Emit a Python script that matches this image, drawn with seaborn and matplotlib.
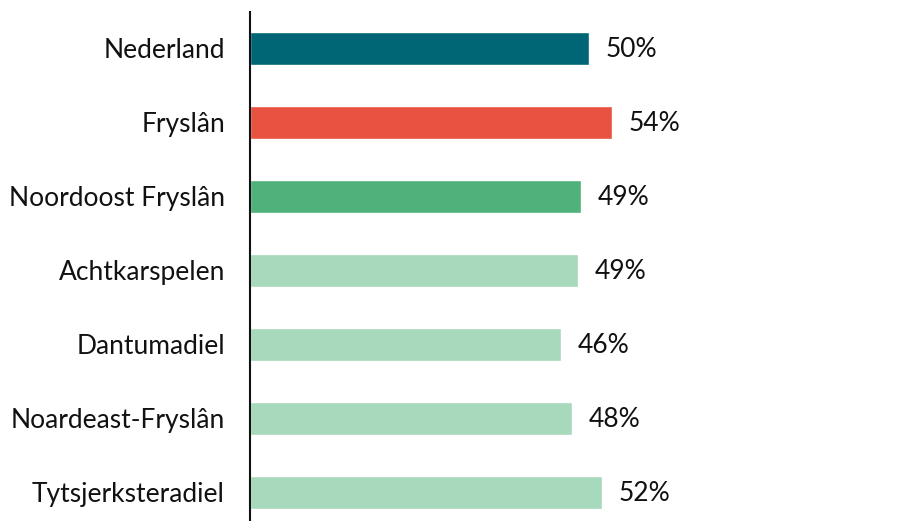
import pandas as pd
import matplotlib.pyplot as plt
import seaborn as sns

# --- DATOS ---
REGIONS = ["Nederland", "Fryslân", "Noordoost Fryslân", "Achtkarspelen",
           "Dantumadiel", "Noardeast-Fryslân", "Tytsjerksteradiel"]
VALUES = [50.2, 53.5, 48.9, 48.5, 46.0, 47.6, 52.1]
LABELS = ["50%", "54%", "49%", "49%", "46%", "48%", "52%"]
COLORS = ["#006675", "#E85240", "#50B27A", "#A7D9BD", "#A7D9BD", "#A7D9BD", "#A7D9BD"]


def main():
    sns.set_theme(style="white")
    plt.rcParams['font.family'] = ['Lato', 'DejaVu Sans']

    df = pd.DataFrame({"Regio": REGIONS, "Waarde": VALUES})
    palette = dict(zip(REGIONS, COLORS))

    fig = plt.figure(figsize=(9.08, 5.21), dpi=100)
    ax = fig.add_axes([250 / 908, 0, 1 - 250 / 908 - 0.01, 1 - 12 / 521])

    sns.barplot(data=df, x="Waarde", y="Regio", hue="Regio", palette=palette,
                order=REGIONS, width=0.45, saturation=1, legend=False, ax=ax)

    for i, (v, lab) in enumerate(zip(VALUES, LABELS)):
        ax.annotate(lab, xy=(v, i), xytext=(12, -1), textcoords="offset points",
                    va="center", ha="left", fontsize=19, color="#111111")

    ax.set_xlim(0, 96)
    ax.set_ylim(6.39, -0.49)
    ax.set_xlabel("")
    ax.set_ylabel("")
    ax.set_xticks([])
    ax.tick_params(axis="y", length=0, pad=18, labelsize=19, labelcolor="#111111")
    for side in ["top", "right", "bottom"]:
        ax.spines[side].set_visible(False)
    ax.spines["left"].set_color("#111111")
    ax.spines["left"].set_linewidth(1.5)

    plt.savefig("out.png", dpi=100)
    plt.close()


if __name__ == "__main__":
    main()
